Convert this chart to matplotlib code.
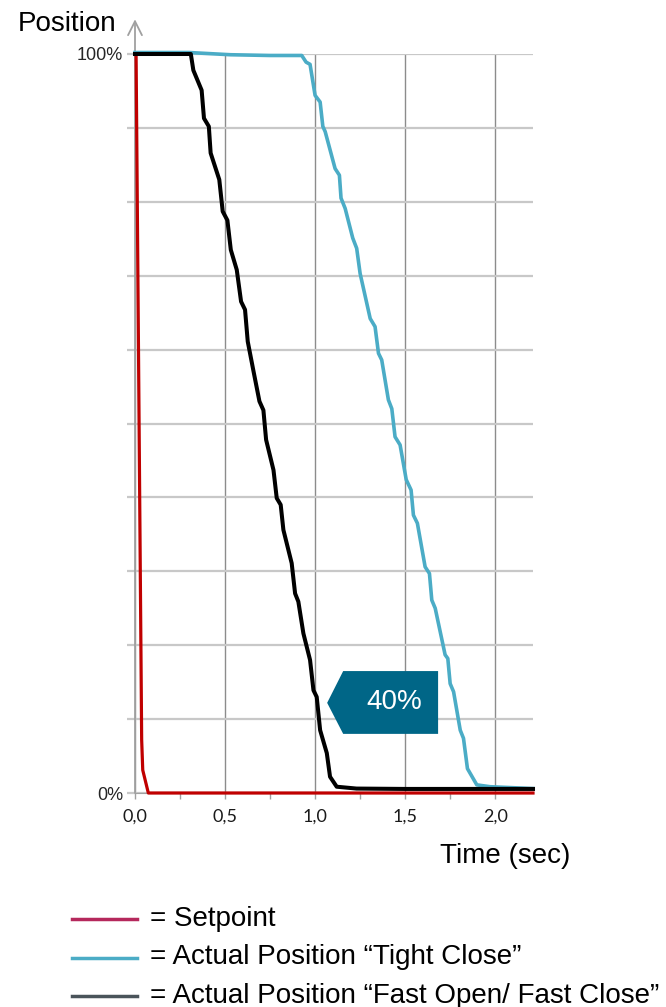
import matplotlib.pyplot as plt
from matplotlib.lines import Line2D
from matplotlib.patches import Polygon
from matplotlib.ticker import MultipleLocator, FixedFormatter, FixedLocator

plt.rcParams['font.family'] = ['Liberation Sans', 'DejaVu Sans']

# setpoint (red)
t_set = [0, 0.006, 0.037, 0.043, 0.074, 2.21]
p_set = [100, 100, 7.2, 3.1, 0, 0]

# actual position "Tight Close" (cyan)
t_tight = [0, 0.3, 0.53, 0.75, 0.926, 0.95, 0.972, 1.0, 1.028, 1.043, 1.056, 1.111, 1.135,
           1.144, 1.167, 1.209, 1.231, 1.25, 1.306, 1.333, 1.352, 1.37, 1.407, 1.426, 1.444,
           1.472, 1.506, 1.533, 1.546, 1.568, 1.611, 1.635, 1.648, 1.667, 1.722, 1.737, 1.75,
           1.769, 1.806, 1.824, 1.846, 1.898, 1.972, 2.21]
p_tight = [100.2, 100.2, 99.9, 99.8, 99.8, 98.9, 98.6, 94.4, 93.5, 90.2, 89.5, 84.5, 83.6,
           80.5, 79.1, 75.1, 73.7, 70.3, 64.2, 63.1, 59.5, 58.6, 53.2, 52.0, 48.2,
           47.1, 42.4, 41.0, 37.6, 36.5, 30.6, 29.7, 26.1, 25.0, 18.7, 18.2, 14.8,
           13.7, 8.5, 7.4, 3.3, 1.1, 0.85, 0.6]

# actual position "Fast Open / Fast Close" (black)
t_fast = [0, 0.31, 0.324, 0.37, 0.383, 0.41, 0.42, 0.468, 0.487, 0.513, 0.532, 0.565, 0.589,
          0.611, 0.626, 0.657, 0.691, 0.713, 0.728, 0.769, 0.787, 0.809, 0.824, 0.87, 0.889,
          0.907, 0.935, 0.972, 0.991, 1.009, 1.028, 1.065, 1.083, 1.12, 1.23, 1.5, 2.21]
p_fast = [100, 100, 97.8, 95.1, 91.3, 90.2, 86.6, 83.0, 78.7, 77.5, 73.5, 70.8, 66.5,
          65.4, 61.1, 57.2, 53.0, 51.8, 47.8, 43.7, 39.9, 39.0, 35.6, 31.1, 27.0,
          25.9, 21.6, 18.0, 13.9, 13.0, 8.5, 5.4, 2.2, 0.85, 0.6, 0.55, 0.55]

x_ticks = [0, 0.5, 1.0, 1.5, 2.0]
x_labels = ['0,0', '0,5', '1,0', '1,5', '2,0']
legend_labels = ['= Setpoint', '= Actual Position \u201cTight Close\u201d',
                 '= Actual Position \u201cFast Open/ Fast Close\u201d']
legend_colors = ['#b5285c', '#4bacc6', '#4a545a']

fig = plt.figure(figsize=(6.66, 10.07), dpi=100)
W, H = 666, 1007
ax = fig.add_axes([135 / W, 1 - 793 / H, 398 / W, 739 / H])

ax.set_xlim(0, 2.21)
ax.set_ylim(0, 100)

for s in ['top', 'right', 'left']:
    ax.spines[s].set_visible(False)
ax.spines['bottom'].set_color('#a0a0a0')

# ticks and grid
ax.xaxis.set_major_locator(FixedLocator(x_ticks))
ax.xaxis.set_major_formatter(FixedFormatter(x_labels))
ax.xaxis.set_minor_locator(MultipleLocator(0.25))
ax.yaxis.set_major_locator(MultipleLocator(10))
ax.yaxis.set_major_formatter(plt.FuncFormatter(
    lambda v, p: '100%' if round(v) == 100 else ('0%' if round(v) == 0 else '')))
ax.grid(axis='y', color='#c8c8c8', lw=1.6)
ax.grid(axis='x', which='major', color='#8c8c8c', lw=1.0)
ax.tick_params(axis='y', length=6, color='#c8c8c8', width=1.6, pad=2.5, labelsize=13, labelcolor='#262626')
ax.tick_params(axis='x', which='both', length=4, color='#a0a0a0', width=1.0)
ax.tick_params(axis='x', which='major', pad=7, labelsize=13, labelcolor='#1a1a1a')
for lab in ax.get_xticklabels():
    lab.set_family(['Lato', 'DejaVu Sans'])

# y axis with arrow
ax.annotate('', xy=(0, 104.7), xytext=(0, 0), xycoords='data',
            arrowprops=dict(arrowstyle='->,head_length=1.0,head_width=0.5', color='#a0a0a0',
                            lw=1.3, shrinkA=0, shrinkB=0), annotation_clip=False)

ax.plot(t_tight, p_tight, color='#4bacc6', lw=2.6, zorder=3, clip_on=False)
ax.plot(t_set, p_set, color='#c00000', lw=2.3, zorder=4, clip_on=False)
ax.plot(t_fast, p_fast, color='#000000', lw=2.9, zorder=5, clip_on=False)

# 40% callout
box = Polygon([(1.067, 12.2), (1.156, 16.5), (1.683, 16.5), (1.683, 8.0), (1.156, 8.0)],
              closed=True, facecolor='#006687', edgecolor='none', zorder=6)
ax.add_patch(box)
ax.text(1.44, 12.3, '40%', color='white', fontsize=20, ha='center', va='center', zorder=7)

fig.text(18 / W, 1 - 24 / H, 'Position', fontsize=20, ha='left', va='center')
fig.text(570 / W, 1 - 856 / H, 'Time (sec)', fontsize=20, ha='right', va='center')

# legend
for i, (lab, col) in enumerate(zip(legend_labels, legend_colors)):
    y = 1 - (919 + i * 38.5) / H
    fig.add_artist(Line2D([72 / W, 137 / W], [y, y], color=col, lw=2.5))
    fig.text(150 / W, y, lab, fontsize=20, ha='left', va='center')

fig.savefig('out.png', dpi=100)
